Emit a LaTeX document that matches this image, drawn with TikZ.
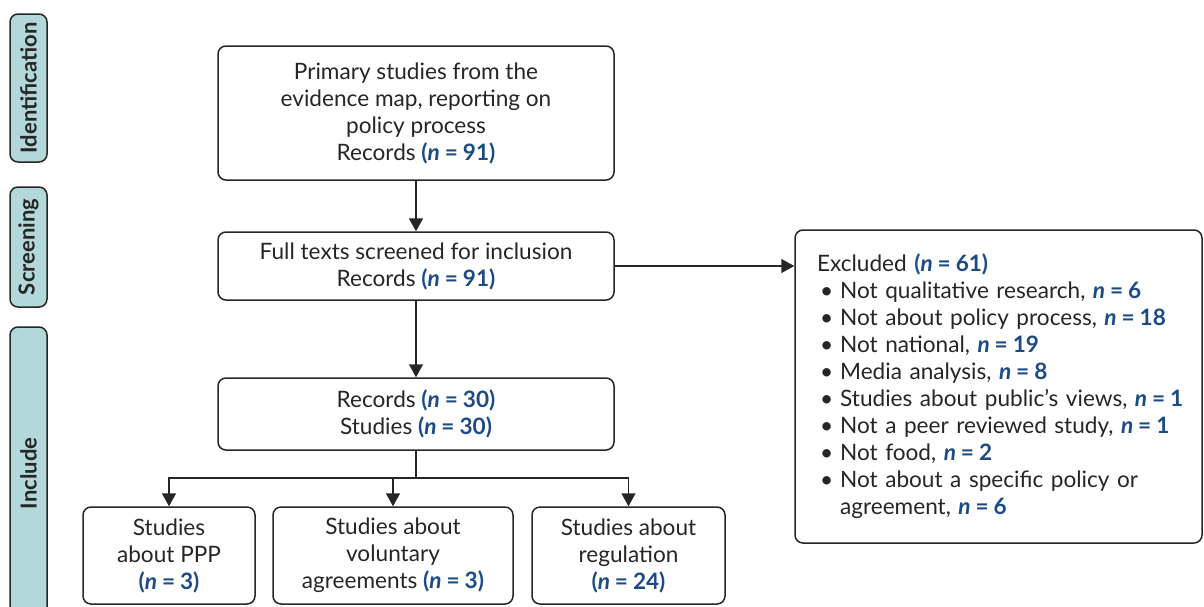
\documentclass[tikz,border=0pt]{standalone}
\usepackage{fontspec}
\setmainfont{Lato}
\usepackage{tikz}
\usetikzlibrary{arrows.meta, positioning}
\definecolor{nblue}{HTML}{1D4B86}
\definecolor{phase}{HTML}{B2D8DA}
\definecolor{ink}{HTML}{262626}
\newcommand{\nval}[1]{\textcolor{nblue}{\textbf{(\textit{n}\hspace{0.22em}=\hspace{0.22em}#1)}}}
\newcommand{\nbare}[1]{\textcolor{nblue}{\textbf{\textit{n}\hspace{0.22em}=\hspace{0.22em}#1}}}
\newcommand{\exitem}{\hspace*{9.5pt}\textbullet\hspace{3.5pt}}

\begin{document}
\begin{tikzpicture}[
    x=0.5pt, y=-0.5pt,
    font=\fontsize{11.3}{13.5}\selectfont, text=ink,
    stage/.style={rectangle, rounded corners=4pt, draw=ink, line width=0.75pt, align=center, inner sep=2pt},
    phasebox/.style={rectangle, rounded corners=4pt, draw=ink, fill=phase, line width=0.75pt, rotate=90, font=\fontsize{11}{12}\selectfont\bfseries, minimum height=18.5pt},
    arrow/.style={-{Triangle[width=7pt,length=6.5pt]}, line width=0.75pt, draw=ink}
]
\useasboundingbox (0,0) rectangle (1204,606);

% Phase labels
\node[phasebox, minimum width=74pt] (ident) at (28.5, 88) {Identification};
\node[phasebox, minimum width=60pt] (screen) at (28.5, 247) {Screening};
\node[phasebox, minimum width=146.5pt] (incl) at (28.5, 473.5) {Include};

% Main flow
\node[stage, minimum width=198pt, minimum height=67pt] (prim) at (416, 113)
    {Primary studies from the\\evidence map, reporting on\\policy process\\Records \nval{91}};
\node[stage, minimum width=198pt, minimum height=34pt] (full) at (416, 266)
    {Full texts screened for inclusion\\Records \nval{91}};
\node[stage, minimum width=198pt, minimum height=36pt] (recs) at (416, 414)
    {Records \nval{30}\\Studies \nval{30}};

\draw[arrow] (prim.south) -- (full.north);
\draw[arrow] (full.south) -- (recs.north);

% Excluded records
\node[stage, minimum width=203.5pt, minimum height=156.5pt, text width=197.5pt, inner xsep=3pt, align=left] (excl) at (998.5, 386.5)
    {\hspace*{8pt}Excluded \nval{61}\\
    \exitem Not qualitative research, \nbare{6}\\
    \exitem Not about policy process, \nbare{18}\\
    \exitem Not national, \nbare{19}\\
    \exitem Media analysis, \nbare{8}\\
    \exitem Studies about public's views, \nbare{1}\\
    \exitem Not a peer reviewed study, \nbare{1}\\
    \exitem Not food, \nbare{2}\\
    \exitem Not about a specific policy or\\
    \hspace*{9.5pt}\phantom{\textbullet}\hspace{3.5pt}agreement, \nbare{6}};

\draw[arrow] (full.east) -- (full.east -| excl.west);

% Study types
\node[stage, minimum width=86pt, minimum height=48.5pt] (ppp) at (169, 555.5)
    {Studies\\about PPP\\\nval{3}};
\node[stage, minimum width=120pt, minimum height=48.5pt] (vol) at (393, 555.5)
    {Studies about\\voluntary\\agreements \nval{3}};
\node[stage, minimum width=96.5pt, minimum height=48.5pt] (reg) at (628.5, 555.5)
    {Studies about\\regulation\\\nval{24}};

\coordinate (split) at (416, 478);
\draw[line width=0.75pt, draw=ink] (recs.south) -- (split);
\draw[arrow] (split) -| (ppp.north);
\draw[arrow] (split) -| (vol.north);
\draw[arrow] (split) -| (reg.north);

\end{tikzpicture}
\end{document}
